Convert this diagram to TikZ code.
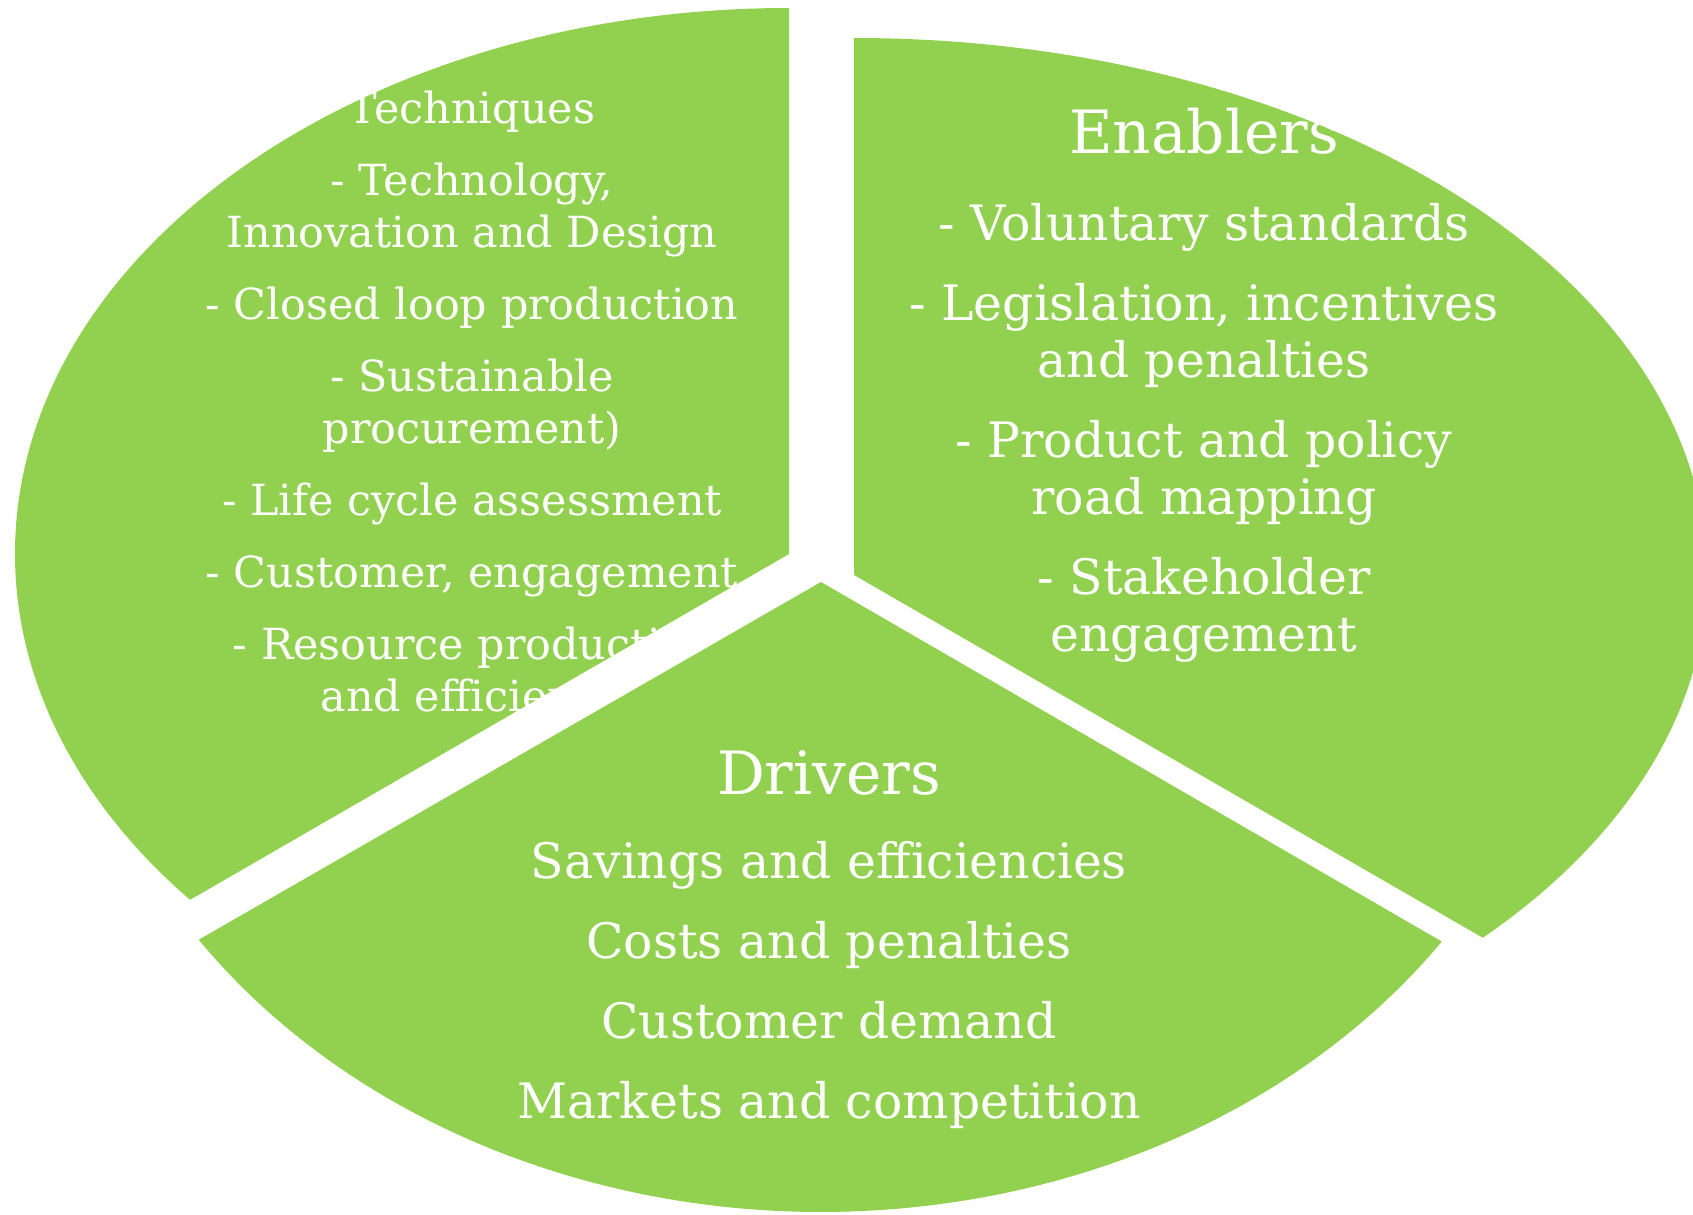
\documentclass[tikz,border=0pt]{standalone}
\usepackage{fontspec}
\setmainfont{DejaVu Serif}
\usepackage{tikz}
\usepackage{xcolor}
\definecolor{leaf}{HTML}{92D050}
\tikzstyle{piece}=[fill=leaf, draw=none]
\tikzstyle{small}=[text=white, align=center, inner sep=0pt, font=\fontsize{12.2}{14.8}\selectfont]
\tikzstyle{big} = [small, font=\fontsize{13.9}{16.2}\selectfont]
\tikzstyle{head} = [small, font=\fontsize{17}{20}\selectfont]

\begin{document}
\begin{tikzpicture}
\useasboundingbox (0,0) rectangle (16.93,12.14);
\clip (0,0) rectangle (16.93,12.14);

				\coordinate (c_1) at (7.89, 6.60);
				\coordinate (c_2) at (8.54, 6.39);
				\coordinate (c_3) at (8.21, 6.32);

				% techniques
				\fill[piece] (c_1) -- ++(0,5.46) arc[start angle=90, end angle=219.3, x radius=7.74, y radius=5.46] -- cycle;
				\node[small] (t_1) at (4.72, 8.08) {Techniques\\[5.7pt]
					- Technology,\\ Innovation and Design\\[5.7pt]
					- Closed loop production\\[5.7pt]
					- Sustainable\\ procurement)\\[5.7pt]
					- Life cycle assessment\\[5.7pt]
					- Customer, engagement\\[5.7pt]
					- Resource productive\\ and efficiency};

				% enablers
				\fill[piece] (c_2) -- ++(0,5.37) arc[start angle=90, end angle=-42.5, x radius=8.53, y radius=5.37] -- cycle;
				\node[head] (h_2) at (12.04, 10.83) {Enablers};
				\node[big] (t_2) at (12.04, 7.81) {- Voluntary standards\\[6.6pt]
					- Legislation, incentives\\ and penalties\\[6.6pt]
					- Product and policy\\ road mapping\\[6.6pt]
					- Stakeholder\\ engagement};

				% drivers
				\fill[piece] (c_3) -- ++(214.6:7.56 and 6.30) arc[start angle=214.6, end angle=325.2, x radius=7.56, y radius=6.30] -- cycle;
				\node[head] (h_3) at (8.29, 4.41) {Drivers};
				\node[big] (t_3) at (8.29, 2.29) {Savings and efficiencies\\[6.6pt]
					Costs and penalties\\[6.6pt]
					Customer demand\\[6.6pt]
					Markets and competition};
			\end{tikzpicture}
\end{document}
